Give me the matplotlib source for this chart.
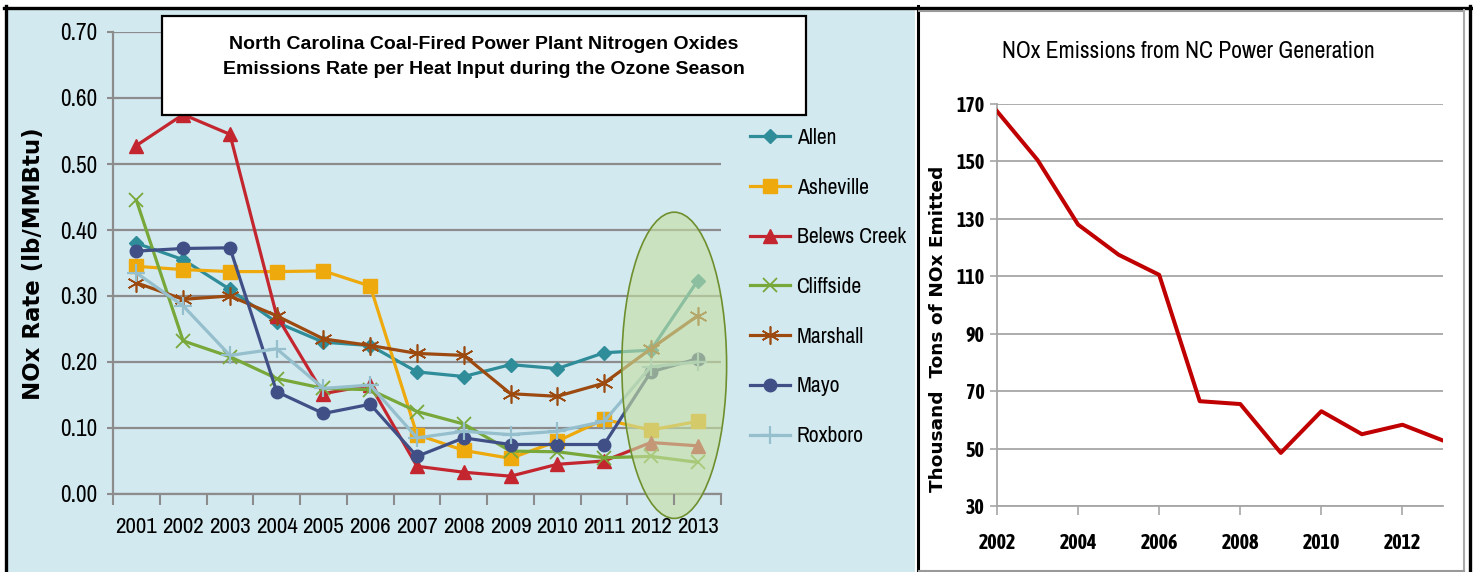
import numpy as np
import matplotlib
matplotlib.use("Agg")
import matplotlib.pyplot as plt
from matplotlib.patches import Rectangle, Ellipse
from matplotlib.lines import Line2D
from matplotlib import font_manager
from matplotlib.font_manager import FontProperties

# data - left chart (ozone season NOx rate, lb/MMBtu)
years = ['2001', '2002', '2003', '2004', '2005', '2006', '2007',
         '2008', '2009', '2010', '2011', '2012', '2013']
allen = [0.38, 0.355, 0.31, 0.26, 0.23, 0.225, 0.185, 0.178, 0.196, 0.19, 0.214, 0.218, 0.323]
asheville = [0.345, 0.34, 0.337, 0.337, 0.338, 0.315, 0.09, 0.066, 0.054, 0.08, 0.113, 0.097, 0.11]
belews = [0.528, 0.575, 0.545, 0.27, 0.152, 0.165, 0.042, 0.033, 0.027, 0.045, 0.05, 0.078, 0.073]
cliffside = [0.445, 0.232, 0.208, 0.175, 0.16, 0.158, 0.125, 0.106, 0.065, 0.064, 0.055, 0.057, 0.048]
marshall = [0.32, 0.295, 0.30, 0.27, 0.235, 0.225, 0.213, 0.21, 0.152, 0.148, 0.168, 0.22, 0.27]
mayo = [0.368, 0.372, 0.373, 0.155, 0.122, 0.136, 0.057, 0.085, 0.075, 0.075, 0.075, 0.185, 0.205]
roxboro = [0.335, 0.285, 0.21, 0.22, 0.16, 0.165, 0.085, 0.095, 0.09, 0.095, 0.11, 0.193, 0.20]

# data - right chart (thousand tons NOx)
gen_years = [2002, 2003, 2004, 2005, 2006, 2007, 2008, 2009, 2010, 2011, 2012, 2013]
gen_nox = [167.5, 150.5, 128, 117.5, 110.5, 66.5, 65.5, 48.5, 63, 55, 58.3, 52.8]

W, H = 1473, 572
BLUE = '#d3e9f0'


# look for a narrow font, else use Liberation Sans
def pick_font(bold):
    want = 700 if bold else 400
    for f in font_manager.fontManager.ttflist:
        if ('Narrow' in f.name or 'Condensed' in f.name) and f.style == 'normal':
            w = f.weight if isinstance(f.weight, int) else (700 if f.weight == 'bold' else 400)
            if abs(w - want) < 100 and 'DejaVu' not in f.name:
                return FontProperties(fname=f.fname), 1.2
    return FontProperties(family=['Liberation Sans', 'DejaVu Sans'],
                          weight='bold' if bold else 'normal'), 1.0


narrow, k = pick_font(False)
narrow_b, kb = pick_font(True)


def fp(base, size):
    p = base.copy()
    p.set_size(size)
    return p


fig = plt.figure(figsize=(W / 100, H / 100), dpi=100)
fig.patch.set_facecolor('white')


def fx(x):
    return x / W


def fy(y):
    return 1 - y / H


def box(x0, y0, x1, y1, **kw):
    # rectangle in pixel coords (top-left origin)
    r = Rectangle((fx(x0), fy(y1)), fx(x1 - x0), (y1 - y0) / H,
                  transform=fig.transFigure, **kw)
    fig.add_artist(r)


def hline(x0, x1, y, **kw):
    fig.add_artist(Line2D([fx(x0), fx(x1)], [fy(y), fy(y)], transform=fig.transFigure, **kw))


def vline(x, y0, y1, **kw):
    fig.add_artist(Line2D([fx(x), fx(x)], [fy(y0), fy(y1)], transform=fig.transFigure, **kw))


# panel backgrounds and frames
box(6, 8, 915, 572, facecolor=BLUE, edgecolor='none', zorder=0)
hline(4, 1473, 7.5, color='black', lw=2.4, zorder=1)
vline(5.5, 6, 572, color='black', lw=2.4, zorder=1)
vline(917.5, 6, 572, color='black', lw=2.2, zorder=1)
vline(1470, 6, 572, color='black', lw=2.4, zorder=1)
hline(919, 1464, 10.5, color='#999999', lw=1.5, zorder=1)
vline(1463.5, 10, 571, color='#aaaaaa', lw=1.5, zorder=1)
hline(919, 1464, 570.5, color='#999999', lw=1.5, zorder=1)

# ---------------- left chart ----------------
ax = fig.add_axes([fx(113), fy(494), fx(721 - 113), (494 - 32) / H])
ax.set_facecolor('none')
x = np.arange(len(years))

series = [
    ('Allen', allen, '#2f8c99', dict(marker='D', ms=7)),
    ('Asheville', asheville, '#eea90c', dict(marker='s', ms=9.5)),
    ('Belews Creek', belews, '#c3262e', dict(marker='^', ms=10)),
    ('Cliffside', cliffside, '#78a839', dict(marker='x', ms=10, mew=1.3)),
    ('Marshall', marshall, '#9c4a10', dict(marker=(6, 2, 0), ms=13, mew=1.2)),
    ('Mayo', mayo, '#404f86', dict(marker='o', ms=9)),
    ('Roxboro', roxboro, '#95bfcc', dict(marker='+', ms=13, mew=1.6)),
]
handles = []
for name, vals, col, mk in series:
    ln, = ax.plot(x, vals, color=col, lw=2.3, label=name, zorder=3, **mk)
    handles.append(ln)

ax.set_xlim(-0.5, len(years) - 0.5)
ax.set_ylim(0, 0.70)
yt = np.arange(0, 0.71, 0.1)
ax.set_yticks(yt)
ax.set_yticklabels(['%.2f' % v for v in yt], fontproperties=fp(narrow, 14 * k))
ax.set_xticks(x)
ax.set_xticklabels(years, fontproperties=fp(narrow, 13.8 * k))
ax.set_xticks(np.arange(-0.5, len(years)), minor=True)
ax.tick_params(axis='x', which='major', length=0, pad=16.5)
ax.tick_params(axis='x', which='minor', length=8, width=1.5, color='#8c8c8c', direction='out')
ax.tick_params(axis='y', length=4, width=1.5, color='#8c8c8c', pad=7)
ax.grid(axis='y', color='#8c8c8c', lw=1.6, zorder=1)
for s in ['top', 'right']:
    ax.spines[s].set_visible(False)
for s in ['left', 'bottom']:
    ax.spines[s].set_color('#8c8c8c')
    ax.spines[s].set_linewidth(1.6)

ax.add_patch(Ellipse((11.5, 0.195), 2.24, 0.464, facecolor='#c6dfa3', alpha=0.62,
                     edgecolor='none', zorder=4, clip_on=False))
ax.add_patch(Ellipse((11.5, 0.195), 2.24, 0.464, facecolor='none',
                     edgecolor='#6f8f2e', lw=1.2, zorder=5, clip_on=False))
ax.xaxis.set_zorder(6)

ax.set_ylabel('NOx Rate (lb/MMBtu)', family=['DejaVu Sans'], fontweight='bold',
              fontsize=16.5)
ax.yaxis.set_label_coords((45 - 113) / 608, 0.5 - (264 - 263) / 462)

fig.legend(handles=handles, loc='upper left',
           bbox_to_anchor=(fx(750), fy(128)), frameon=False,
           prop=fp(narrow, 13 * k), labelspacing=1.37,
           handlelength=1.85, handletextpad=0.3, borderpad=0, borderaxespad=0)

# title box
box(162, 16, 806, 115, facecolor='white', edgecolor='black', lw=1.6, zorder=6)
fig.text(fx(484), fy(57), 'North Carolina Coal-Fired Power Plant Nitrogen Oxides\n'
         'Emissions Rate per Heat Input during the Ozone Season',
         ha='center', va='center', fontsize=14, fontweight='bold',
         family=['Liberation Sans', 'DejaVu Sans'], linespacing=1.65, zorder=7)

# ---------------- right chart ----------------
ax2 = fig.add_axes([fx(997), fy(506), fx(1443 - 997), (506 - 104) / H])
ax2.set_facecolor('white')
ax2.plot(gen_years, gen_nox, color='#c00000', lw=2.9, zorder=3)
ax2.set_xlim(2002, 2013)
ax2.set_ylim(30, 170)
ax2.set_yticks(np.arange(30, 171, 20))
ax2.set_xticks(np.arange(2002, 2013, 2))
ax2.tick_params(axis='x', length=6.5, width=1.2, color='#a6a6a6', pad=13)
ax2.tick_params(axis='y', length=5, width=1.2, color='#a6a6a6', pad=4)
for lab in ax2.get_xticklabels() + ax2.get_yticklabels():
    lab.set_fontproperties(fp(narrow_b, 12 * kb))
ax2.grid(axis='y', color='#a6a6a6', lw=1.3, zorder=1)
for s in ['top', 'right']:
    ax2.spines[s].set_visible(False)
for s in ['left', 'bottom']:
    ax2.spines[s].set_color('#a6a6a6')
    ax2.spines[s].set_linewidth(1.3)
ax2.set_ylabel('Thousand  Tons of NOx Emitted', family=['DejaVu Sans'],
               fontweight='bold', fontsize=13.3)
ax2.yaxis.set_label_coords((947 - 997) / (1443 - 997), 0.5 - (329 - 305) / 402)
fig.text(fx(1188), fy(52), 'NOx Emissions from NC Power Generation',
         ha='center', va='center', fontproperties=fp(narrow, 14.1 * k))

fig.savefig('out.png', dpi=100)
